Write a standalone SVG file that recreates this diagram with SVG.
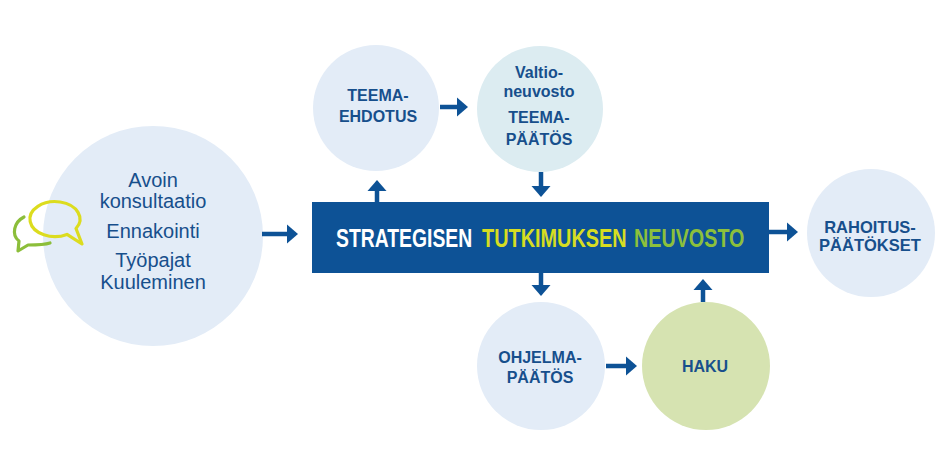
<svg xmlns="http://www.w3.org/2000/svg" width="951" height="476" viewBox="0 0 951 476">
<defs>
<style>
.c{fill:#e3ecf7}
.cv{fill:#dcecf1}
.ch{fill:#d6e3b1}
.t{font-family:"Liberation Sans",Arial,sans-serif;font-weight:bold;font-size:16px;fill:#174f8c;text-anchor:middle}
.tr{font-family:"Liberation Sans",Arial,sans-serif;font-size:20px;fill:#174f8c;text-anchor:middle}
.tb{font-family:"Liberation Sans",Arial,sans-serif;font-weight:bold;font-size:26px}
.sh{stroke:#0d5296;stroke-width:4.5;fill:none}
.hd{fill:#0d5296}
</style>
</defs>
<rect width="951" height="476" fill="#ffffff"/>

<g id="consultation">
<circle class="c" cx="153" cy="236" r="110"/>
<text class="tr" x="153" y="187">Avoin</text>
<text class="tr" x="153" y="208">konsultaatio</text>
<text class="tr" x="153" y="238">Ennakointi</text>
<text class="tr" x="153" y="267">Työpajat</text>
<text class="tr" x="153" y="289">Kuuleminen</text>
</g>
<g id="bubbles" fill="none" stroke-linejoin="round" stroke-linecap="round">
<path d="M 24 217 C 14 222, 11 235, 19 241 L 18 251 L 28 245 C 35 245, 44 245, 50 243" stroke="#8cbe3a" stroke-width="3.2"/>
<path d="M 67 234.4 A 25 17.5 0 1 1 76 228.5 L 82 244 Z" stroke="#dcdc1e" stroke-width="3.2"/>
</g>

<g id="teemaehdotus">
<circle class="c" cx="376" cy="108" r="63"/>
<text class="t" x="378" y="101">TEEMA-</text>
<text class="t" x="378" y="122">EHDOTUS</text>
</g>

<g id="teemapaatos">
<circle class="cv" cx="540" cy="109" r="63"/>
<text class="t" x="539" y="78">Valtio-</text>
<text class="t" x="539" y="97">neuvosto</text>
<text class="t" x="539" y="123">TEEMA-</text>
<text class="t" x="539" y="145">PÄÄTÖS</text>
</g>

<g id="neuvosto">
<rect x="312" y="202" width="457" height="71" fill="#0d5296"/>
<text class="tb" transform="translate(336,247) scale(0.745,1)" fill="#ffffff">STRATEGISEN</text>
<text class="tb" transform="translate(482,247) scale(0.765,1)" fill="#d6dd22">TUTKIMUKSEN</text>
<text class="tb" transform="translate(634,247) scale(0.76,1)" fill="#8cc03c">NEUVOSTO</text>
</g>

<g id="ohjelmapaatos">
<circle class="c" cx="541" cy="366" r="64"/>
<text class="t" x="540" y="363">OHJELMA-</text>
<text class="t" x="540" y="383">PÄÄTÖS</text>
</g>

<g id="haku">
<circle class="ch" cx="706" cy="366" r="64"/>
<text class="t" x="705" y="372">HAKU</text>
</g>

<g id="rahoituspaatokset">
<circle class="c" cx="871" cy="233" r="64"/>
<text class="t" x="870" y="233" style="font-size:16.5px">RAHOITUS-</text>
<text class="t" x="870" y="251" style="font-size:16.5px">PÄÄTÖKSET</text>
</g>

<g id="connectors">
<line class="sh" x1="262" y1="234" x2="288" y2="234"/>
<polygon class="hd" points="287,224.5 298,234 287,243.5"/>

<line class="sh" x1="377" y1="202" x2="377" y2="190"/>
<polygon class="hd" points="367.5,191 377,180 386.5,191"/>

<line class="sh" x1="541" y1="172" x2="541" y2="187"/>
<polygon class="hd" points="531.5,186 541,197 550.5,186"/>

<line class="sh" x1="541" y1="273" x2="541" y2="286"/>
<polygon class="hd" points="531.5,285 541,296 550.5,285"/>

<line class="sh" x1="703" y1="302" x2="703" y2="289"/>
<polygon class="hd" points="693.5,290 703,279 712.5,290"/>

<line class="sh" x1="769" y1="232" x2="788" y2="232"/>
<polygon class="hd" points="787,222.5 798,232 787,241.5"/>

<line class="sh" x1="440" y1="107" x2="458" y2="107"/>
<polygon class="hd" points="457,97.5 468,107 457,116.5"/>

<line class="sh" x1="606" y1="366" x2="627" y2="366"/>
<polygon class="hd" points="626,356.5 637,366 626,375.5"/>
</g>
</svg>
